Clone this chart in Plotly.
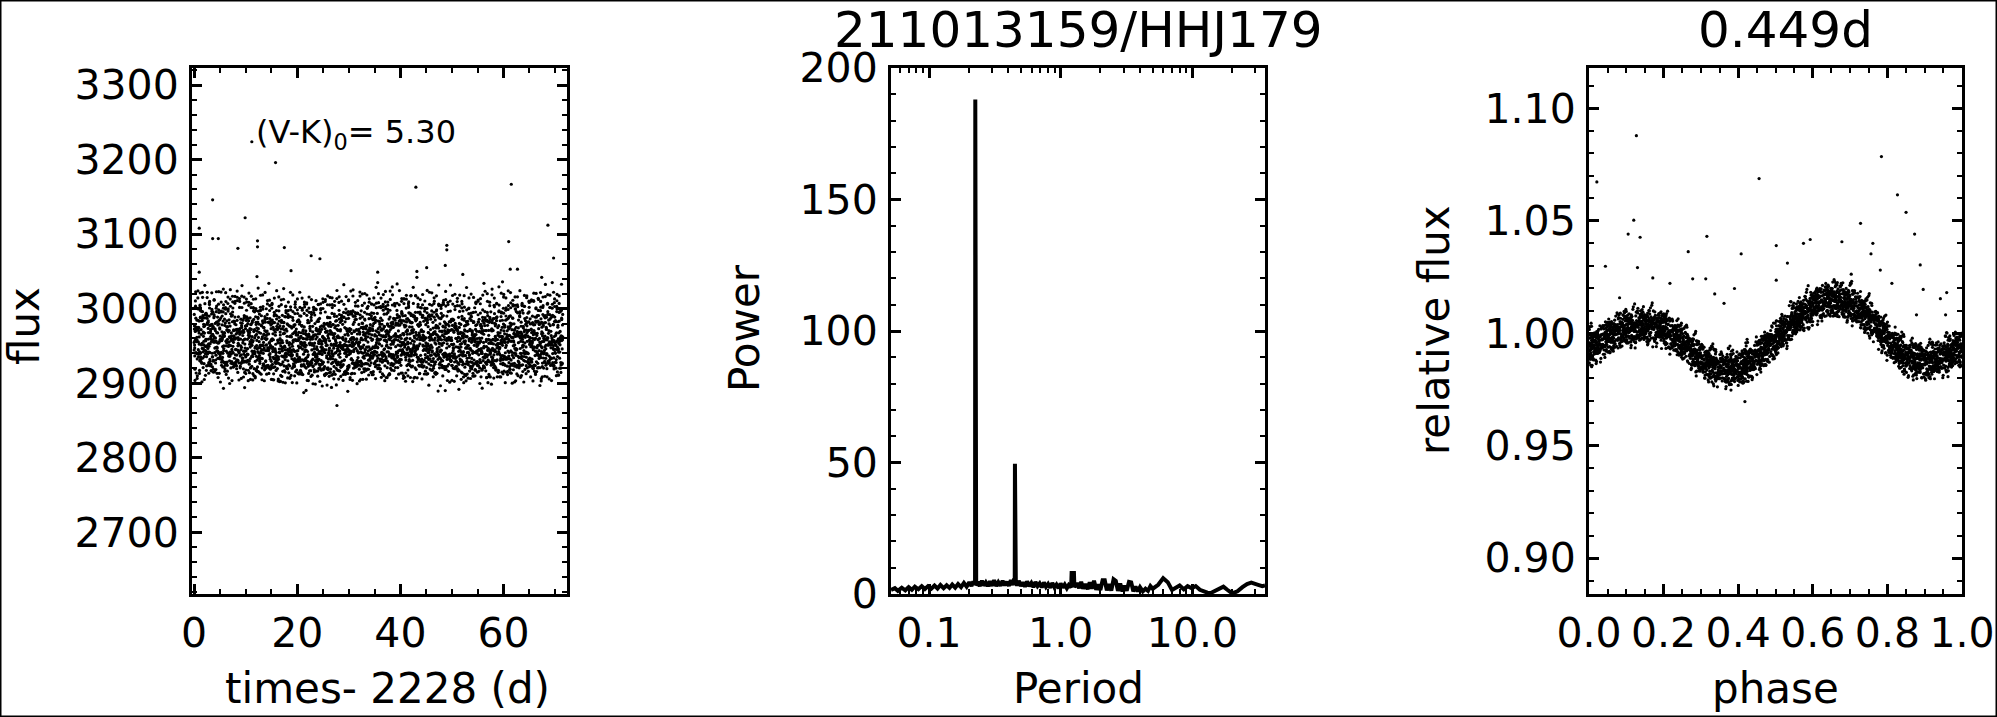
import numpy as np
import plotly.graph_objects as go

W, H = 1997, 717

# ---------------- data ----------------
period_days = 0.449          # folding period (title)
cadence_days = 0.02043       # K2 long cadence
n_cadences = 3500

# phase-folded shape (right panel, median of the band)
curve_phase = [0.00, 0.05, 0.10, 0.15, 0.20, 0.25, 0.30, 0.35, 0.40, 0.45, 0.50,
               0.55, 0.60, 0.65, 0.70, 0.75, 0.80, 0.85, 0.90, 0.95, 1.00]
curve_relflux = [0.993, 0.998, 1.002, 1.003, 1.002, 0.996, 0.988, 0.984, 0.984, 0.989, 0.997,
                 1.005, 1.012, 1.015, 1.013, 1.007, 0.997, 0.989, 0.987, 0.989, 0.993]

# slow level of the light curve (left panel)
base_time = [0, 6, 12, 18, 24, 30, 36, 42, 48, 54, 60, 66, 72]
base_flux = [2968, 2967, 2964, 2961, 2960, 2962, 2966, 2967, 2964, 2961, 2964, 2966, 2967]

scatter_relflux = [1.6, -3.9, 4.8, -0.8, 2.9, -5.7, 0.5, 4.0, -2.4, -4.6, 6.1, 1.2, -3.1, 2.5,
                   -0.4, 4.3, -7.0, 3.3, -1.5, 0.3, -5.3, 3.6, 7.3, -2.0, 1.0, -3.5, 5.3, -1.3,
                   2.1, -6.4, 3.1, -2.7, 0.1, 4.6, -4.1, 1.4, -0.7, 5.6, -4.8, 2.2, -1.7,
                   8.5, -0.2, 2.7, -3.0, 0.8]
scatter_relflux_b = [0.9, -1.6, 2.1, -0.4, -2.3, 1.3, 0.2, -1.1, 1.8, -2.0, 0.6, 2.4, -0.8,
                     1.0, -1.9, 0.4, -0.1]

# outliers in the light curve
lc_outlier_time = [11.2, 15.8, 3.6, 9.9, 3.6, 4.7, 1.0, 8.5, 12.3, 12.3, 17.5, 22.7, 24.4, 18.8,
                   43.0, 61.5, 68.6, 61.0, 49.0, 49.0, 69.7, 61.3, 62.7, 45.1, 48.7, 43.2, 43.2,
                   35.6, 52.1, 67.4, 1.0, 12.2, 27.7, 48.7, 9.8, 5.7, 29.8, 67.3, 65.7, 35.6,
                   56.2, 30.8, 59.8, 69.7, 14.5]
lc_outlier_flux = [3224, 3196, 3146, 3122, 3094, 3094, 3108, 3081, 3091, 3083, 3082, 3071, 3067, 3051,
                   3163, 3167, 3112, 3090, 3085, 3079, 3068, 3053, 3053, 3055, 3058, 3050, 3042,
                   3049, 3046, 3042, 3049, 3043, 2870, 2890, 2894, 2893, 2889, 2903, 2903, 3035,
                   3034, 3017, 3036, 3022, 3034]

# outliers in the folded curve
ph_outlier_phase = [0.127, 0.021, 0.456, 0.784, 0.827, 0.850, 0.873, 0.120, 0.105, 0.137, 0.316,
                    0.728, 0.678, 0.593, 0.575, 0.502, 0.761, 0.266, 0.408, 0.044, 0.130, 0.532,
                    0.888, 0.781, 0.812, 0.390, 0.502, 0.278, 0.313, 0.337, 0.362, 0.896, 0.959,
                    0.942, 0.878, 0.956, 0.082, 0.217, 0.171, 0.418, 0.756, 0.703]
ph_outlier_relflux = [1.0879, 1.0673, 1.0688, 1.0786, 1.0616, 1.0538, 1.0441, 1.0503, 1.0441, 1.0427,
                      1.0431, 1.0489, 1.0407, 1.0417, 1.0400, 1.0390, 1.0400, 1.0363, 1.0353, 1.0298,
                      1.0292, 1.0312, 1.0304, 1.0281, 1.0222, 1.0199, 1.0236, 1.0242, 1.0242, 1.0175,
                      1.0133, 1.0195, 1.0181, 1.0154, 1.0082, 1.0082, 1.0158, 1.0222, 1.0246, 0.9696,
                      1.0353, 1.0263]

# periodogram (middle panel)
pg_period = [0.0514, 0.055, 0.058, 0.062, 0.066, 0.070, 0.074, 0.078, 0.083, 0.088, 0.093, 0.098,
             0.104, 0.110, 0.116, 0.122, 0.129, 0.136, 0.143, 0.150, 0.158, 0.166, 0.175, 0.184,
             0.193, 0.202, 0.210, 0.217, 0.221, 0.2235, 0.2245, 0.2255, 0.228, 0.235, 0.243,
             0.252, 0.261, 0.270, 0.280, 0.290, 0.300, 0.312, 0.324, 0.336, 0.349, 0.362, 0.376,
             0.390, 0.404, 0.418, 0.432, 0.442, 0.4475, 0.449, 0.4505, 0.456, 0.466, 0.480,
             0.498, 0.516, 0.535, 0.555, 0.576, 0.598, 0.620, 0.643, 0.667, 0.692, 0.718, 0.745,
             0.773, 0.802, 0.832, 0.863, 0.895, 0.928, 0.962, 0.998, 1.035, 1.073, 1.113, 1.150,
             1.20, 1.21, 1.26, 1.27, 1.33, 1.38, 1.43, 1.48, 1.54, 1.60, 1.66, 1.72, 1.79, 1.86,
             1.93, 2.00, 2.08, 2.16, 2.24, 2.33, 2.42, 2.52, 2.62, 2.72, 2.83, 2.94, 3.05, 3.17,
             3.30, 3.43, 3.56, 3.70, 3.85, 4.0, 4.2, 4.4, 4.6, 4.8, 5.0, 5.5, 6.0, 6.5, 7.0, 7.5,
             8.0, 8.6, 9.2, 9.9, 10.6, 11.4, 12.2, 13.0, 13.8, 14.8, 16.0, 17.2, 18.4, 19.6,
             20.5, 22.0, 24.0, 26.0, 28.0, 30.0, 32.0, 34.0, 35.6]
pg_power = [1.5, 2.2, 1.2, 2.4, 1.4, 2.6, 1.6, 2.8, 1.8, 3.0, 1.9, 2.9,
            2.0, 3.2, 2.1, 3.4, 2.2, 3.3, 2.3, 3.6, 2.4, 3.8, 2.6, 4.2,
            2.8, 4.5, 3.0, 4.8, 3.5, 5.0, 188.0, 5.0, 3.2, 4.6, 3.0,
            5.0, 3.2, 4.4, 3.0, 4.8, 3.1, 5.2, 3.0, 4.5, 3.2, 5.0, 3.3,
            4.6, 3.1, 5.3, 3.4, 5.6, 6.0, 49.5, 6.0, 4.5, 3.2, 5.0,
            3.0, 4.4, 2.8, 4.8, 3.0, 4.2, 2.6, 4.6, 3.0, 4.0, 2.5, 4.4,
            2.7, 3.8, 2.4, 4.2, 2.6, 3.6, 2.2, 4.0, 2.4, 3.6, 2.2, 3.4,
            2.5, 8.0, 8.0, 2.6, 4.2, 2.2, 4.6, 2.0, 3.8, 1.8, 4.4, 2.0, 5.0, 1.6,
            3.6, 1.5, 5.2, 5.2, 1.4, 3.8, 1.3, 5.6, 5.0, 1.2, 4.0, 1.0, 3.2, 1.2,
            4.6, 4.4, 1.0, 2.8, 1.0, 2.6, 1.0, 2.0, 1.2, 3.0, 2.0, 3.5, 6.0, 4.5, 1.5, 2.5,
            3.2, 1.8, 3.0, 2.2, 3.0, 1.6, 1.0, 0.5, 0.4, 1.2, 2.4, 2.8, 1.6, 0.6,
            0.4, 1.0, 2.6, 3.8, 4.3, 4.0, 3.4, 3.0, 3.2]

lc_xrange = [-0.4, 72.3]
lc_yrange = [2617, 3323]
pg_xrange = [0.0514, 35.6]
pg_yrange = [0, 200]
ph_xrange = [0.0, 1.0]
ph_yrange = [0.884, 1.118]

# ---------------- build series ----------------
idx = np.arange(n_cadences)
t = idx * cadence_days
phase = np.mod(t / period_days, 1.0)
resid = (np.asarray(scatter_relflux)[idx % len(scatter_relflux)] +
         np.asarray(scatter_relflux_b)[idx % len(scatter_relflux_b)]) * 1e-3
rel = np.interp(phase, curve_phase, curve_relflux) + resid
flux = np.interp(t, base_time, base_flux) * rel

FONT = "DejaVu Sans"
BLACK = "black"
dot = dict(color=BLACK, size=3.2, line=dict(width=0))

fig = go.Figure()
fig.add_trace(go.Scatter(x=np.concatenate([t, lc_outlier_time]),
                         y=np.concatenate([flux, lc_outlier_flux]),
                         mode="markers", marker=dot, xaxis="x", yaxis="y", showlegend=False))
fig.add_trace(go.Scatter(x=pg_period, y=pg_power, mode="lines",
                         line=dict(color=BLACK, width=4), xaxis="x2", yaxis="y2", showlegend=False))
fig.add_trace(go.Scatter(x=np.concatenate([phase, ph_outlier_phase]),
                         y=np.concatenate([rel, ph_outlier_relflux]),
                         mode="markers", marker=dot, xaxis="x3", yaxis="y3", showlegend=False))


def px_x(p):
    return p / W


def px_y(p):
    return 1 - p / H


ydom = [px_y(594), px_y(68)]
common = dict(showline=True, linewidth=3, linecolor=BLACK, mirror="allticks",
              ticks="inside", ticklen=10, tickwidth=2.5, tickcolor=BLACK,
              showgrid=False, zeroline=False, automargin=False,
              tickfont=dict(family=FONT, size=41, color=BLACK))
xcommon = dict(common, ticklabelstandoff=1)
ycommon = dict(common, ticklabelstandoff=2)
minor = dict(ticks="inside", ticklen=5, tickwidth=2, tickcolor=BLACK, showgrid=False)

log_minor = [0.06, 0.07, 0.08, 0.09, 0.2, 0.3, 0.4, 0.5, 0.6, 0.7, 0.8, 0.9,
             2, 3, 4, 5, 6, 7, 8, 9, 20, 30]

fig.update_layout(
    width=W, height=H, margin=dict(l=0, r=0, t=0, b=0, pad=0), autosize=False,
    paper_bgcolor="white", plot_bgcolor="white",
    xaxis=dict(xcommon, domain=[px_x(192), px_x(567)], range=lc_xrange,
               tickvals=[0, 20, 40, 60], minor=dict(minor, dtick=5, tick0=0), anchor="y"),
    yaxis=dict(ycommon, domain=ydom, range=lc_yrange,
               tickvals=[2700, 2800, 2900, 3000, 3100, 3200, 3300],
               minor=dict(minor, dtick=20, tick0=2600), anchor="x"),
    xaxis2=dict(xcommon, domain=[px_x(891), px_x(1265)], type="log",
                range=[np.log10(pg_xrange[0]), np.log10(pg_xrange[1])],
                tickvals=[0.1, 1, 10], ticktext=["0.1", "1.0", "10.0"],
                minor=dict(minor, tickvals=log_minor), anchor="y2"),
    yaxis2=dict(ycommon, domain=ydom, range=pg_yrange,
                tickvals=[0, 50, 100, 150, 200],
                minor=dict(minor, dtick=10, tick0=0), anchor="x2"),
    xaxis3=dict(xcommon, domain=[px_x(1589), px_x(1962)], range=ph_xrange,
                tickvals=[0, 0.2, 0.4, 0.6, 0.8, 1.0], tickformat=".1f",
                minor=dict(minor, dtick=0.05, tick0=0), anchor="y3"),
    yaxis3=dict(ycommon, domain=ydom, range=ph_yrange,
                tickvals=[0.90, 0.95, 1.00, 1.05, 1.10], tickformat=".2f",
                minor=dict(minor, dtick=0.01, tick0=0.88), anchor="x3"),
)


def label(text, x, y, size=42, angle=0, xanchor="center", yanchor="middle"):
    fig.add_annotation(text=text, x=px_x(x), y=px_y(y), xref="paper", yref="paper",
                       showarrow=False, textangle=angle, xanchor=xanchor, yanchor=yanchor,
                       font=dict(family=FONT, size=size, color=BLACK))


label("211013159/HHJ179", 1078, 30, size=50)
label("0.449d", 1785, 30, size=50)
label("flux", 24, 326, angle=-90)
label("times- 2228 (d)", 387, 688)
label("Power", 744, 328, angle=-90)
label("Period", 1078, 688)
label("relative flux", 1434, 330, angle=-90)
label("phase", 1775, 688)
label("(V-K)<sub>0</sub>= 5.30", 254, 134, size=32, xanchor="left")

fig.add_shape(type="rect", xref="paper", yref="paper", x0=0, y0=0, x1=1, y1=1,
              line=dict(color=BLACK, width=3), fillcolor="rgba(0,0,0,0)")

fig.write_html("out.html", config={"displayModeBar": False},
               post_script="document.body.style.margin='0';"
                           "document.body.style.overflow='hidden';")
